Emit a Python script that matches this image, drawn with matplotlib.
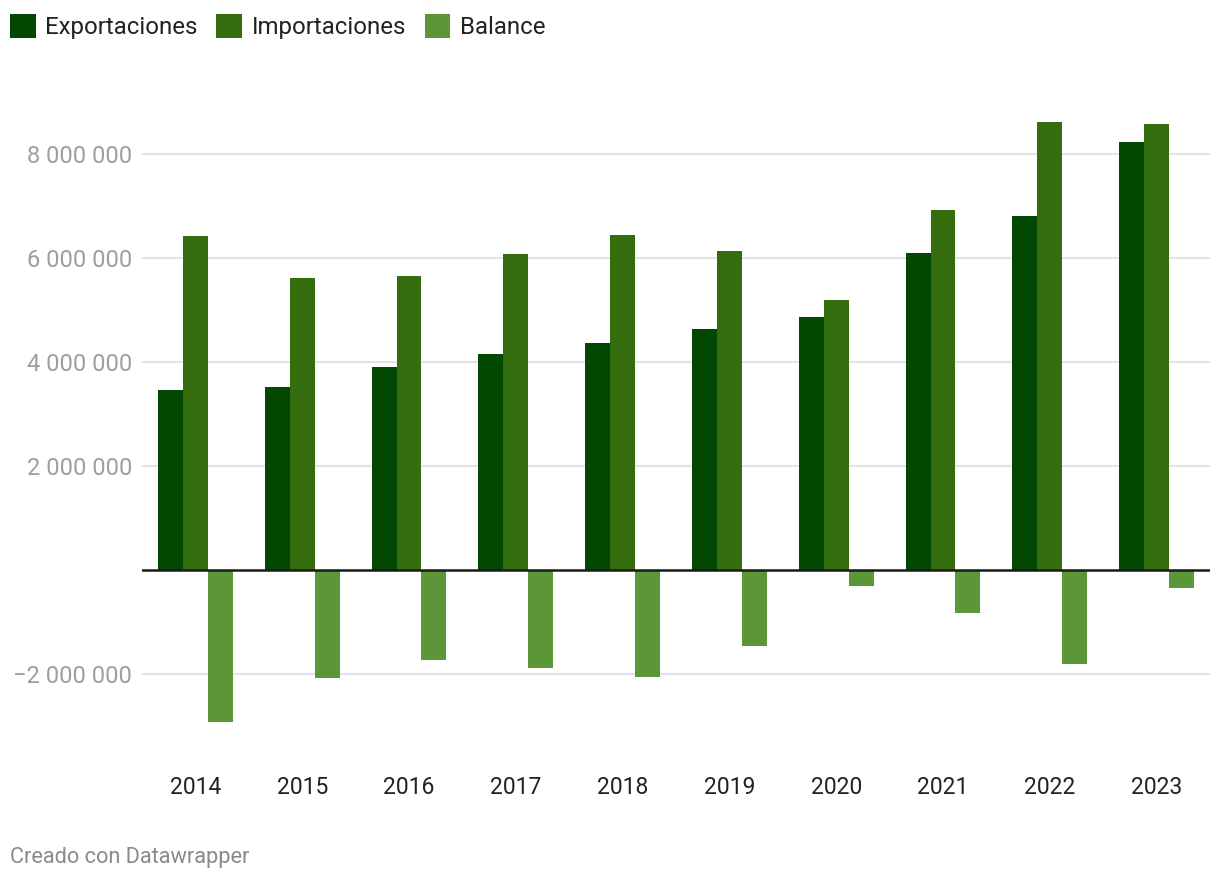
import matplotlib
matplotlib.use("Agg")
import matplotlib.pyplot as plt
import numpy as np
from matplotlib.patches import Patch
from matplotlib.ticker import FuncFormatter

plt.rcParams['font.family'] = ['Roboto', 'DejaVu Sans']

years = ["2014", "2015", "2016", "2017", "2018", "2019", "2020", "2021", "2022", "2023"]
exportaciones = [3470000, 3510000, 3910000, 4160000, 4370000, 4640000, 4870000, 6090000, 6800000, 8230000]
importaciones = [6420000, 5610000, 5650000, 6070000, 6440000, 6130000, 5200000, 6920000, 8610000, 8570000]
balance = [-2930000, -2080000, -1730000, -1890000, -2060000, -1460000, -310000, -830000, -1810000, -350000]
series_names = ["Exportaciones", "Importaciones", "Balance"]
colors = ["#024802", "#336d0e", "#5b9638"]

W, H = 1220, 882
fig = plt.figure(figsize=(W / 100, H / 100), dpi=100)
# plot area in pixels: x 142..1210, zero at y=570, 52 px per million
ymin, ymax = -3.2e6, 8.8e6
top_px = 570 - 8.8 * 52
bot_px = 570 + 3.2 * 52
ax = fig.add_axes([142 / W, 1 - bot_px / H, 1068 / W, (bot_px - top_px) / H])

x = np.arange(len(years))
bw = 0.234
for i, (vals, c) in enumerate(zip([exportaciones, importaciones, balance], colors)):
    ax.bar(x + (i - 1) * bw, vals, width=bw, color=c, zorder=3, linewidth=0)

ax.set_xlim(-0.5, len(years) - 0.5)
ax.set_ylim(ymin, ymax)
ax.set_yticks([-2e6, 2e6, 4e6, 6e6, 8e6])
fmt = lambda v, p: ("\u2212" if v < 0 else "") + f"{abs(int(v)):,}".replace(",", " ")
ax.yaxis.set_major_formatter(FuncFormatter(fmt))
ax.grid(axis="y", color="#e3e3e3", linewidth=1.5, zorder=0)
ax.axhline(0, color="#1a1a1a", linewidth=1.8, zorder=4)
for s in ax.spines.values():
    s.set_visible(False)
ax.tick_params(axis="y", length=0, pad=7, labelsize=17, labelcolor="#9e9e9e")
ax.set_xticks(x)
ax.set_xticklabels(years)
ax.tick_params(axis="x", length=0, pad=(765 - bot_px), labelsize=16.5, labelcolor="#222222")

handles = [Patch(facecolor=c, edgecolor="none") for c in colors]
fig.legend(handles, series_names, loc="upper left", bbox_to_anchor=(3 / W, 1 - 7 / H),
           ncol=3, frameon=False, fontsize=17.3, handlelength=1.06, handleheight=1.14,
           handletextpad=0.4, columnspacing=0.78, borderaxespad=0, borderpad=0.3,
           labelcolor="#222222")

fig.text(10 / W, 1 - 857 / H, "Creado con Datawrapper", fontsize=15.7, color="#8a8a8a",
         ha="left", va="center")

fig.savefig("out.png", dpi=100, facecolor="white")
